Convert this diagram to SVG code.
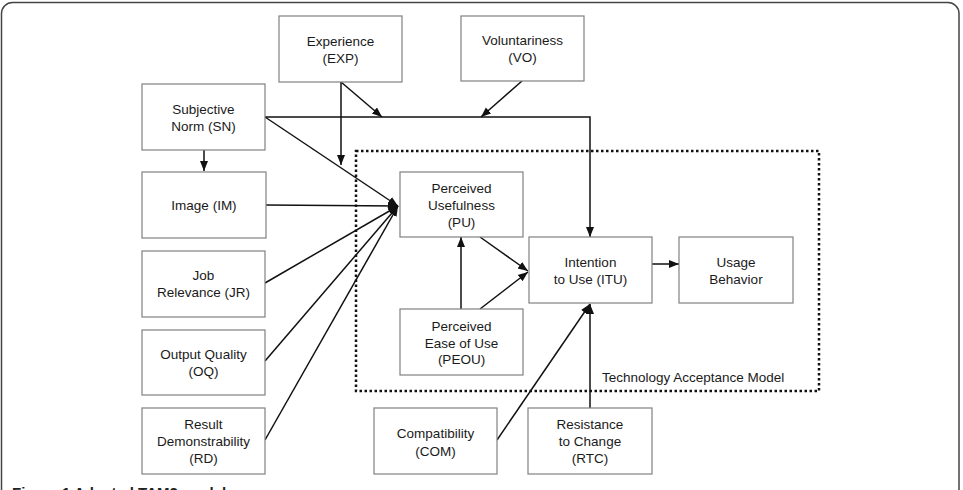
<svg xmlns="http://www.w3.org/2000/svg" width="963" height="490" viewBox="0 0 963 490">
<defs>
<style>
.box{fill:#fff;stroke:#808080;stroke-width:1.2}
.t{font-family:"Liberation Sans",Arial,sans-serif;font-size:13.5px;fill:#1a1a1a;text-anchor:middle}
.c{fill:none;stroke:#111;stroke-width:1.5}
</style>
<marker id="ah" markerUnits="userSpaceOnUse" markerWidth="10" markerHeight="10" viewBox="0 0 10 10" refX="10" refY="5" orient="auto">
<path d="M0,1 L10,5 L0,9 Z" fill="#111"/>
</marker>
</defs>
<rect x="1.5" y="2.5" width="957.5" height="520" rx="11" fill="#fff" stroke="#444" stroke-width="1.5"/>
<rect x="356" y="151" width="463" height="240" fill="none" stroke="#111" stroke-width="2.5" stroke-dasharray="2.5,2.5"/>
<text x="602" y="382" style="font-family:'Liberation Sans',Arial,sans-serif;font-size:13.5px;fill:#1a1a1a">Technology Acceptance Model</text>
<g id="connectors">
<path class="c" d="M341,82 L341,165" marker-end="url(#ah)"/>
<path class="c" d="M341,82 L382,117" marker-end="url(#ah)"/>
<path class="c" d="M522,81 L481,117" marker-end="url(#ah)"/>
<path class="c" d="M265,117 L590,117 L590,237" marker-end="url(#ah)"/>
<path class="c" d="M204,150 L204,171" marker-end="url(#ah)"/>
<path class="c" d="M265,117 L398,206" marker-end="url(#ah)"/>
<path class="c" d="M266,205 L398,206" marker-end="url(#ah)"/>
<path class="c" d="M265,283 L398,206" marker-end="url(#ah)"/>
<path class="c" d="M265,361 L398,206" marker-end="url(#ah)"/>
<path class="c" d="M265,440 L398,206" marker-end="url(#ah)"/>
<path class="c" d="M461,309 L461,237" marker-end="url(#ah)"/>
<path class="c" d="M480,237 L528,271" marker-end="url(#ah)"/>
<path class="c" d="M480,309 L528,272" marker-end="url(#ah)"/>
<path class="c" d="M497,440 L590,304" marker-end="url(#ah)"/>
<path class="c" d="M590,408 L590,304" marker-end="url(#ah)"/>
<path class="c" d="M652,264 L679,264" marker-end="url(#ah)"/>
</g>
<g id="EXP"><rect class="box" x="279" y="16" width="123" height="66"/><text class="t" x="340.5" y="46">Experience</text><text class="t" x="340.5" y="63">(EXP)</text></g>
<g id="VO"><rect class="box" x="461" y="16" width="123" height="65"/><text class="t" x="522.5" y="45">Voluntariness</text><text class="t" x="522.5" y="62">(VO)</text></g>
<g id="SN"><rect class="box" x="142" y="84" width="123" height="66"/><text class="t" x="203.5" y="114">Subjective</text><text class="t" x="203.5" y="131">Norm (SN)</text></g>
<g id="IM"><rect class="box" x="142" y="172" width="124" height="66"/><text class="t" x="204" y="210">Image (IM)</text></g>
<g id="JR"><rect class="box" x="142" y="251" width="123" height="66"/><text class="t" x="203.5" y="280">Job</text><text class="t" x="203.5" y="297">Relevance (JR)</text></g>
<g id="OQ"><rect class="box" x="142" y="330" width="123" height="65"/><text class="t" x="203.5" y="359">Output Quality</text><text class="t" x="203.5" y="376">(OQ)</text></g>
<g id="RD"><rect class="box" x="142" y="408" width="123" height="66"/><text class="t" x="203.5" y="429">Result</text><text class="t" x="203.5" y="446">Demonstrability</text><text class="t" x="203.5" y="463">(RD)</text></g>
<g id="PU"><rect class="box" x="400" y="172" width="123" height="65"/><text class="t" x="461.5" y="193">Perceived</text><text class="t" x="461.5" y="210">Usefulness</text><text class="t" x="461.5" y="227">(PU)</text></g>
<g id="PEOU"><rect class="box" x="400" y="309" width="123" height="66"/><text class="t" x="461.5" y="331">Perceived</text><text class="t" x="461.5" y="348">Ease of Use</text><text class="t" x="461.5" y="364">(PEOU)</text></g>
<g id="ITU"><rect class="box" x="529" y="237" width="123" height="66"/><text class="t" x="590.5" y="267">Intention</text><text class="t" x="590.5" y="284">to Use (ITU)</text></g>
<g id="UB"><rect class="box" x="679" y="237" width="114" height="66"/><text class="t" x="736" y="267">Usage</text><text class="t" x="736" y="284">Behavior</text></g>
<g id="COM"><rect class="box" x="374" y="408" width="123" height="66"/><text class="t" x="435.5" y="438">Compatibility</text><text class="t" x="435.5" y="456">(COM)</text></g>
<g id="RTC"><rect class="box" x="528" y="408" width="124" height="66"/><text class="t" x="590" y="429">Resistance</text><text class="t" x="590" y="446">to Change</text><text class="t" x="590" y="463">(RTC)</text></g>
<text x="12" y="498" style="font-family:'Liberation Sans',Arial,sans-serif;font-size:15px;font-weight:bold;fill:#222">Figure 1 Adapted TAM2 model</text>
</svg>
